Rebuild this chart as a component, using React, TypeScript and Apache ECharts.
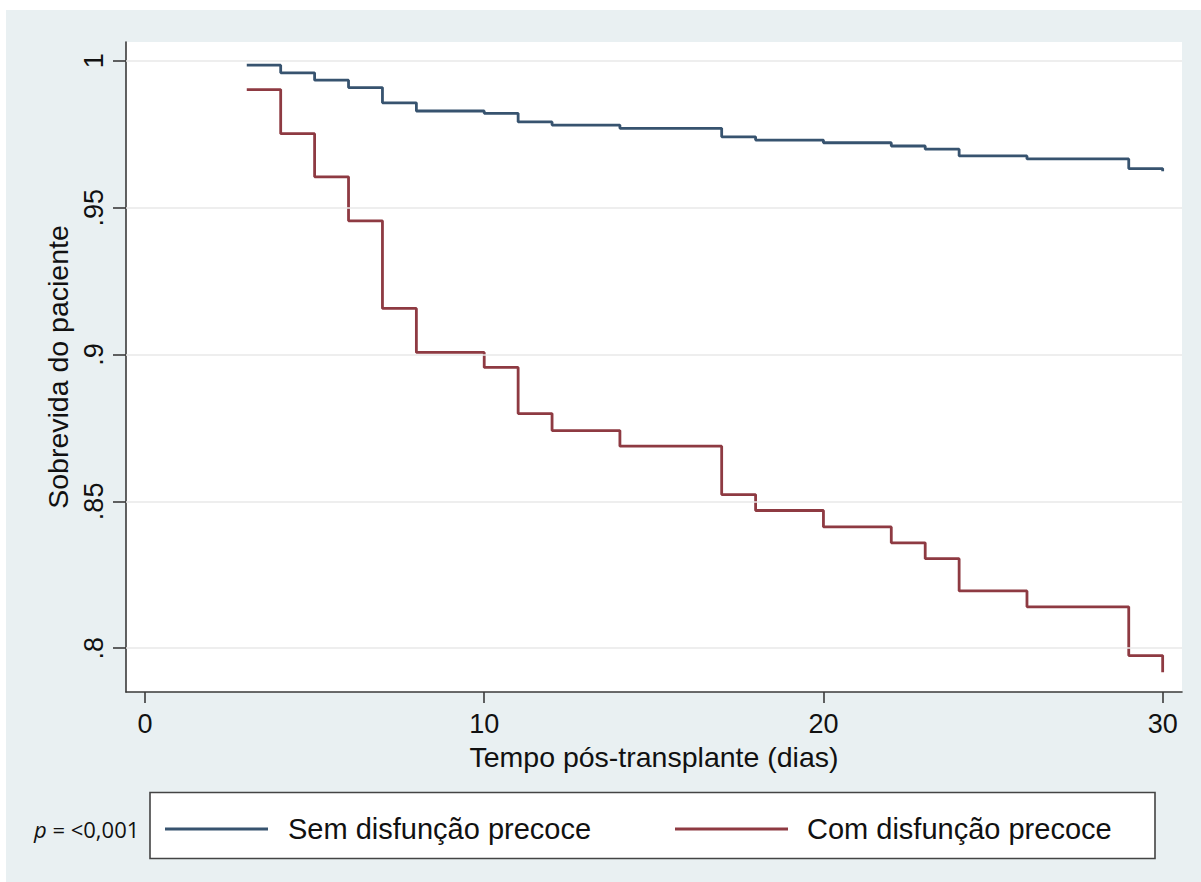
import React, { useEffect, useRef } from "react";
import * as echarts from "echarts";

// ---- data ----
const seriesNames = ["Sem disfunção precoce", "Com disfunção precoce"];
const seriesColors = ["#37536f", "#8e3a42"];
const semTimes = [3, 4, 5, 6, 7, 8, 10, 11, 12, 14, 17, 18, 20, 22, 23, 24, 26, 29, 30];
const semSurv = [0.9985, 0.9959, 0.9934, 0.9909, 0.9857, 0.9829, 0.9821, 0.9792, 0.9781, 0.977, 0.9741, 0.973, 0.9721, 0.971, 0.9699, 0.9676, 0.9666, 0.9633, 0.9624];
const comTimes = [3, 4, 5, 6, 7, 8, 10, 11, 12, 14, 17, 18, 20, 22, 23, 24, 26, 29, 30];
const comSurv = [0.9902, 0.9752, 0.9605, 0.9455, 0.9157, 0.9007, 0.8956, 0.8799, 0.8741, 0.8688, 0.8523, 0.8469, 0.8413, 0.8359, 0.8305, 0.8195, 0.8141, 0.7975, 0.7918];
const xTicks = [0, 10, 20, 30];
const yTicks = [0.8, 0.85, 0.9, 0.95, 1];
const yTickLabels = [".8", ".85", ".9", ".95", "1"];
const xAxisTitle = "Tempo pós-transplante (dias)";
const yAxisTitle = "Sobrevida do paciente";
const pValueLabel = "= <0,001";

const FONT = "'Liberation Sans', Arial, Helvetica, sans-serif";

export default function App() {
  const ref = useRef<HTMLDivElement>(null);
  useEffect(() => {
    if (!ref.current) return;
    const chart = echarts.init(ref.current, undefined, { renderer: "svg" });
    const zip = (t: number[], s: number[]) => t.map((x, i) => [x, s[i]]);
    const legendY = 829;
    chart.setOption({
      animation: false,
      backgroundColor: "#ffffff",
      textStyle: { fontFamily: FONT },
      grid: {
        left: 126,
        top: 42,
        right: 19,
        bottom: 190,
        show: true,
        backgroundColor: "#ffffff",
        borderWidth: 0,
        containLabel: false,
      },
      xAxis: {
        type: "value",
        min: -0.56,
        max: 30.57,
        name: xAxisTitle,
        nameLocation: "middle",
        nameGap: 50,
        nameTextStyle: { fontSize: 28.5, color: "#111", fontFamily: FONT },
        axisLine: { show: true, onZero: false, lineStyle: { color: "#3a3a3a", width: 1.6 } },
        axisTick: { show: true, length: 11, customValues: xTicks, lineStyle: { color: "#3a3a3a", width: 1.6 } },
        axisLabel: { customValues: xTicks, fontSize: 27, color: "#111", margin: 18, fontFamily: FONT },
        splitLine: { show: false },
      },
      yAxis: {
        type: "value",
        min: 0.7851,
        max: 1.0064,
        name: yAxisTitle,
        nameLocation: "middle",
        nameGap: 52,
        nameTextStyle: { fontSize: 28.5, color: "#111", fontFamily: FONT },
        axisLine: { show: true, onZero: false, lineStyle: { color: "#3a3a3a", width: 1.6 } },
        axisTick: { show: true, length: 13, customValues: yTicks, lineStyle: { color: "#3a3a3a", width: 1.6 } },
        axisLabel: {
          customValues: yTicks,
          rotate: 90,
          fontSize: 27,
          color: "#111",
          margin: 19,
          fontFamily: FONT,
          formatter: (v: number) => {
            let best = 0;
            yTicks.forEach((t, i) => {
              if (Math.abs(t - v) < Math.abs(yTicks[best] - v)) best = i;
            });
            return yTickLabels[best];
          },
        },
        splitLine: { show: false },
      },
      series: [
        {
          type: "line",
          name: "grid",
          data: [],
          silent: true,
          z: 1,
          markLine: {
            silent: true,
            symbol: "none",
            label: { show: false },
            lineStyle: { color: "#e8e8e8", width: 1.5, type: "solid" },
            data: yTicks.map((v) => ({ yAxis: v })),
          },
        },
        {
          type: "line",
          name: seriesNames[0],
          step: "end",
          showSymbol: false,
          z: 3,
          lineStyle: { color: seriesColors[0], width: 2.8 },
          itemStyle: { color: seriesColors[0] },
          data: zip(semTimes, semSurv),
        },
        {
          type: "line",
          name: seriesNames[1],
          step: "end",
          showSymbol: false,
          z: 3,
          lineStyle: { color: seriesColors[1], width: 2.8 },
          itemStyle: { color: seriesColors[1] },
          data: zip(comTimes, comSurv),
        },
      ],
      graphic: [
        {
          type: "rect",
          z: -100,
          silent: true,
          shape: { x: 6, y: 10, width: 1195, height: 872 },
          style: { fill: "#e9f0f2" },
        },
        {
          type: "rect",
          z: 10,
          shape: { x: 150, y: 792.5, width: 1005, height: 66 },
          style: { fill: "#ffffff", stroke: "#444", lineWidth: 1.6 },
        },
        {
          type: "line",
          z: 11,
          shape: { x1: 165, y1: legendY, x2: 268, y2: legendY },
          style: { stroke: seriesColors[0], lineWidth: 2.8 },
        },
        {
          type: "text",
          z: 11,
          x: 288,
          y: legendY,
          style: { text: seriesNames[0], fontSize: 29, fontFamily: FONT, fill: "#111", verticalAlign: "middle", align: "left" },
        },
        {
          type: "line",
          z: 11,
          shape: { x1: 675, y1: legendY, x2: 788, y2: legendY },
          style: { stroke: seriesColors[1], lineWidth: 2.8 },
        },
        {
          type: "text",
          z: 11,
          x: 807,
          y: legendY,
          style: { text: seriesNames[1], fontSize: 29, fontFamily: FONT, fill: "#111", verticalAlign: "middle", align: "left" },
        },
        {
          type: "text",
          z: 11,
          x: 34,
          y: legendY,
          style: {
            text: "{i|p} " + pValueLabel,
            fontSize: 22,
            fontFamily: "'Open Sans', 'Liberation Sans', sans-serif",
            fill: "#111",
            verticalAlign: "middle",
            align: "left",
            rich: {
              i: { fontStyle: "italic", fontSize: 22, fontFamily: "'Open Sans', 'Liberation Sans', sans-serif", fill: "#111" },
            },
          },
        },
      ],
    });
    return () => chart.dispose();
  }, []);
  return <div ref={ref} style={{ position: "absolute", left: 0, top: 0, width: 1201, height: 882 }} />;
}
